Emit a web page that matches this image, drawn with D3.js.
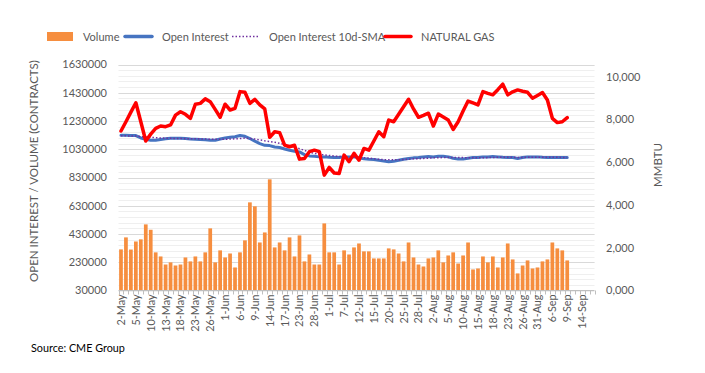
<!DOCTYPE html>
<head>
  <meta charset="UTF-8">
  <style>
    body { margin: 0; background: #fff; }
    text { font-family: Lato, "Liberation Sans", sans-serif; fill: #595959; }
  </style>
  <title>Natural Gas Open Interest and Volume</title>
</head>

<body>
  <script src="https://cdn.jsdelivr.net/npm/d3@7"></script>
  <script>
    // categories: trading days, 2 May - 16 Sep
    var dates = [
      "2-May","3-May","4-May","5-May","6-May","9-May","10-May","11-May","12-May","13-May",
      "16-May","17-May","18-May","19-May","20-May","23-May","24-May","25-May","26-May","27-May","31-May",
      "1-Jun","2-Jun","3-Jun","6-Jun","7-Jun","8-Jun","9-Jun","10-Jun","13-Jun","14-Jun",
      "15-Jun","16-Jun","17-Jun","21-Jun","22-Jun","23-Jun","24-Jun","27-Jun","28-Jun","29-Jun","30-Jun",
      "1-Jul","5-Jul","6-Jul","7-Jul","8-Jul","11-Jul","12-Jul","13-Jul","14-Jul","15-Jul",
      "18-Jul","19-Jul","20-Jul","21-Jul","22-Jul","25-Jul","26-Jul","27-Jul","28-Jul","29-Jul",
      "1-Aug","2-Aug","3-Aug","4-Aug","5-Aug","8-Aug","9-Aug","10-Aug","11-Aug","12-Aug",
      "15-Aug","16-Aug","17-Aug","18-Aug","19-Aug","22-Aug","23-Aug","24-Aug","25-Aug","26-Aug",
      "29-Aug","30-Aug","31-Aug","1-Sep","2-Sep","6-Sep","7-Sep","8-Sep","9-Sep",
      "12-Sep","13-Sep","14-Sep","15-Sep","16-Sep"
    ];

    // volume (contracts)
    var volume = [
      321000,406000,320000,377000,392000,498000,460000,300000,271000,214000,
      229000,207000,214000,264000,236000,271000,236000,300000,470000,229000,
      314000,264000,292000,193000,300000,385000,654000,626000,370000,441000,
      817000,335000,370000,314000,406000,271000,420000,236000,285000,214000,
      214000,505000,300000,300000,214000,314000,285000,335000,363000,307000,
      307000,257000,257000,257000,328000,321000,292000,236000,370000,264000,
      214000,200000,257000,264000,314000,229000,278000,300000,221000,278000,
      370000,179000,186000,271000,229000,271000,193000,264000,363000,250000,
      151000,207000,243000,186000,193000,236000,250000,370000,328000,314000,
      243000
    ];

    // open interest (contracts)
    var openInterest = [
      1129000,1129000,1128000,1127000,1110000,1101000,1094000,1094000,1099000,1104000,
      1108000,1108000,1108000,1106000,1103000,1101000,1099000,1097000,1094000,1094000,
      1103000,1110000,1115000,1118000,1127000,1122000,1106000,1087000,1070000,1058000,
      1056000,1046000,1042000,1032000,1023000,1016000,1011000,992000,983000,980000,
      976000,976000,973000,971000,971000,976000,976000,976000,970000,962000,
      959000,957000,952000,947000,942000,945000,952000,959000,964000,969000,
      971000,976000,978000,976000,980000,980000,976000,966000,961000,961000,
      966000,971000,971000,976000,976000,978000,976000,973000,971000,971000,
      964000,971000,976000,976000,976000,973000,971000,971000,971000,971000,
      971000
    ];

    // open interest 10d-SMA
    var sma = [
      1125000,1125000,1124000,1123000,1120000,1117000,1114000,1112000,1110000,1108000,
      1107000,1106000,1106000,1105000,1104000,1104000,1103000,1102000,1101000,1100000,
      1100000,1101000,1102000,1104000,1106000,1109000,1106000,1102000,1096000,1090000,
      1085000,1079000,1072000,1064000,1055000,1045000,1034000,1022000,1010000,1000000,
      994000,990000,986000,982000,979000,976000,975000,974000,973000,970000,
      967000,963000,959000,956000,955000,955000,956000,957000,959000,962000,
      963000,965000,967000,969000,970000,971000,972000,972000,972000,971000,
      970000,970000,970000,970000,971000,972000,973000,974000,974000,973000,
      972000,972000,973000,973000,973000,974000,974000,974000,973000,972000,
      972000
    ];

    // natural gas price (right axis, MMBTU)
    var gas = [
      7465,7900,8350,8790,7900,7000,7320,7590,7700,7670,
      7750,8210,8370,8250,8060,8720,8760,8970,8840,8480,
      8110,8720,8450,8530,9310,9280,8760,8950,8690,8500,
      7170,7430,7390,6810,6730,6800,6150,6180,6500,6570,
      6500,5400,5760,5500,5480,6340,6030,6420,6100,6650,
      6570,7000,7430,7200,7980,7900,8250,8600,8950,8500,
      8110,8200,8300,7700,8260,8120,7980,7540,7900,8400,
      8870,8780,8690,9310,9230,9160,9400,9660,9160,9300,
      9390,9330,9280,9000,9130,9265,8920,8060,7860,7900,
      8090
    ];

    var leftTicks = [30000,230000,430000,630000,830000,1030000,1230000,1430000,1630000];
    var rightTicks = [0,2000,4000,6000,8000,10000];
    var rightTickText = ["0,000","2,000","4,000","6,000","8,000","10,000"];

    var width = 705;
    var height = 373;
    var plotLeft = 118.5, plotRight = 594.5, plotTop = 64.5, plotBottom = 290.5;

    var svg = d3.select("body").append("svg")
      .attr("width", width)
      .attr("height", height);

    // scales
    var x = d3.scaleBand().domain(dates).range([plotLeft, plotRight]).paddingInner(0.25).paddingOuter(0.125);
    var xc = function(d) { return x(d) + x.bandwidth() / 2; };
    var y = d3.scaleLinear().domain([30000, 1630000]).range([plotBottom, plotTop]);
    var y2 = d3.scaleLinear().domain([0, 10580]).range([plotBottom, plotTop]);

    // gridlines (minor + major)
    var grid = svg.append("g").attr("id", "grid");
    grid.selectAll("line.minor")
      .data(d3.range(30000, 1630001, 40000))
      .enter().append("line")
      .attr("class", "minor")
      .attr("x1", plotLeft).attr("x2", plotRight)
      .attr("y1", function(d) { return Math.round(y(d)) + 0.5; })
      .attr("y2", function(d) { return Math.round(y(d)) + 0.5; })
      .attr("stroke", "#efefef").attr("stroke-width", 1);
    grid.selectAll("line.major")
      .data(leftTicks.slice(1))
      .enter().append("line")
      .attr("class", "major")
      .attr("x1", plotLeft).attr("x2", plotRight)
      .attr("y1", function(d) { return Math.round(y(d)) + 0.5; })
      .attr("y2", function(d) { return Math.round(y(d)) + 0.5; })
      .attr("stroke", "#d9d9d9").attr("stroke-width", 1);

    // volume bars
    svg.append("g").attr("id", "bars")
      .selectAll("rect")
      .data(volume)
      .enter().append("rect")
      .attr("x", function(d, i) { return x(dates[i]); })
      .attr("y", function(d) { return y(d); })
      .attr("width", x.bandwidth())
      .attr("height", function(d) { return y(30000) - y(d); })
      .attr("fill", "#f68e3f");

    // x axis line + category ticks
    var xAxisG = svg.append("g").attr("id", "x_axis");
    xAxisG.append("line")
      .attr("x1", plotLeft).attr("x2", plotRight)
      .attr("y1", plotBottom).attr("y2", plotBottom)
      .attr("stroke", "#bfbfbf");
    var step = x.step();
    xAxisG.selectAll("line.tick")
      .data(d3.range(dates.length + 1))
      .enter().append("line")
      .attr("class", "tick")
      .attr("x1", function(i) { return Math.round(plotLeft + i * step) + 0.5; })
      .attr("x2", function(i) { return Math.round(plotLeft + i * step) + 0.5; })
      .attr("y1", plotBottom).attr("y2", plotBottom + 4)
      .attr("stroke", "#bfbfbf");
    xAxisG.selectAll("text")
      .data(dates.filter(function(d, i) { return i % 3 === 0; }))
      .enter().append("text")
      .attr("transform", function(d) { return "translate(" + (xc(d) + 4) + "," + (plotBottom + 4) + ") rotate(-90)"; })
      .attr("text-anchor", "end")
      .attr("font-size", "10.8px")
      .text(function(d) { return d; });

    // left axis labels
    svg.append("g").attr("id", "y_axis")
      .selectAll("text")
      .data(leftTicks)
      .enter().append("text")
      .attr("x", 107)
      .attr("y", function(d) { return y(d); })
      .attr("dy", "0.35em")
      .attr("text-anchor", "end")
      .attr("font-size", "11px")
      .text(function(d) { return d; });

    // right axis labels
    svg.append("g").attr("id", "y2_axis")
      .selectAll("text")
      .data(rightTicks)
      .enter().append("text")
      .attr("x", 606)
      .attr("y", function(d) { return y2(d); })
      .attr("dy", "0.35em")
      .attr("font-size", "11px")
      .text(function(d, i) { return rightTickText[i]; });

    // lines
    var lineOI = d3.line().x(function(d, i) { return xc(dates[i]); }).y(function(d) { return y(d); });
    var lineGas = d3.line().x(function(d, i) { return xc(dates[i]); }).y(function(d) { return y2(d); });

    svg.append("path").datum(openInterest)
      .attr("d", lineOI)
      .attr("fill", "none").attr("stroke", "#4674c1").attr("stroke-width", 3)
      .attr("stroke-linejoin", "round").attr("stroke-linecap", "round");

    svg.append("path").datum(sma)
      .attr("d", lineOI)
      .attr("fill", "none").attr("stroke", "#7030a0").attr("stroke-width", 1.5)
      .attr("stroke-dasharray", "1.5,2");

    svg.append("path").datum(gas)
      .attr("d", lineGas)
      .attr("fill", "none").attr("stroke", "#ff0000").attr("stroke-width", 3.5)
      .attr("stroke-linejoin", "round").attr("stroke-linecap", "round");

    // axis titles
    svg.append("text")
      .attr("transform", "translate(38,171) rotate(-90)")
      .attr("text-anchor", "middle")
      .attr("font-size", "11.5px")
      .text("OPEN INTEREST / VOLUME (CONTRACTS)");

    svg.append("text")
      .attr("transform", "translate(662,165) rotate(-90)")
      .attr("text-anchor", "middle")
      .attr("font-size", "11.5px")
      .text("MMBTU");

    // legend
    var legend = svg.append("g").attr("id", "legend");
    legend.append("rect").attr("x", 47).attr("y", 32).attr("width", 26).attr("height", 9).attr("fill", "#f68e3f");
    legend.append("text").attr("x", 83).attr("y", 40.5).attr("font-size", "11px").text("Volume");
    legend.append("line").attr("x1", 125).attr("x2", 152).attr("y1", 36.5).attr("y2", 36.5)
      .attr("stroke", "#4674c1").attr("stroke-width", 3.5).attr("stroke-linecap", "round");
    legend.append("text").attr("x", 162).attr("y", 40.5).attr("font-size", "11px").text("Open Interest");
    legend.append("line").attr("x1", 232).attr("x2", 258).attr("y1", 36.5).attr("y2", 36.5)
      .attr("stroke", "#7030a0").attr("stroke-width", 1.5).attr("stroke-dasharray", "1.5,2");
    legend.append("text").attr("x", 269).attr("y", 40.5).attr("font-size", "11px").text("Open Interest 10d-SMA");
    legend.append("line").attr("x1", 385).attr("x2", 411).attr("y1", 36.5).attr("y2", 36.5)
      .attr("stroke", "#ff0000").attr("stroke-width", 3.5).attr("stroke-linecap", "round");
    legend.append("text").attr("x", 421).attr("y", 40.5).attr("font-size", "11px").text("NATURAL GAS");

    // source
    svg.append("text")
      .attr("x", 31).attr("y", 352)
      .attr("font-size", "10.8px")
      .style("fill", "#000")
      .text("Source: CME Group");
  </script>
</body>
